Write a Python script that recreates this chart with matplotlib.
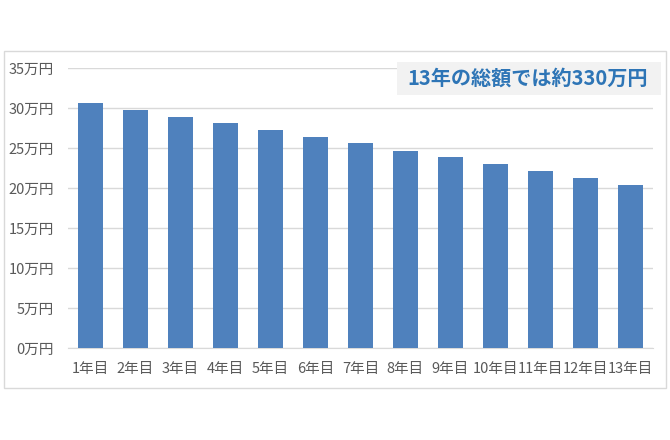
import matplotlib
matplotlib.use("Agg")
import matplotlib.pyplot as plt
from matplotlib.patches import Rectangle

plt.rcParams['font.family'] = ['Noto Sans CJK JP', 'DejaVu Sans']

# data (万円)
years = [f"{i}年目" for i in range(1, 14)]
amounts = [30.6, 29.75, 28.95, 28.1, 27.25, 26.45, 25.6,
           24.7, 23.85, 23.05, 22.15, 21.3, 20.4]
yticks = [0, 5, 10, 15, 20, 25, 30, 35]
ytick_labels = [f"{v}万円" for v in yticks]
note = "13年の総額では約330万円"

bar_color = "#4f81bd"
grid_color = "#d9d9d9"
text_gray = "#595959"

fig = plt.figure(figsize=(6.7, 4.4), dpi=100)

# outer chart frame (behind the axes)
fig.patches.append(Rectangle((0.006, 0.118), 0.988, 0.766, transform=fig.transFigure,
                             facecolor="none", edgecolor="#d9d9d9", linewidth=1, zorder=-1))

ax = fig.add_axes([0.1015, 0.209, 0.873, 0.636])
ax.set_facecolor("none")

x = range(len(years))
ax.bar(x, amounts, width=0.55, color=bar_color, zorder=3)

ax.set_ylim(0, 35)
ax.set_xlim(-0.5, len(years) - 0.5)
ax.set_yticks(yticks)
ax.set_yticklabels(ytick_labels)
ax.set_xticks(list(x))
ax.set_xticklabels(years)
ax.yaxis.grid(True, color=grid_color, linewidth=1, zorder=0)
ax.set_axisbelow(True)

for side in ["top", "right", "left"]:
    ax.spines[side].set_visible(False)
ax.spines["bottom"].set_color(grid_color)
ax.tick_params(axis="both", length=0, labelsize=10.5, labelcolor=text_gray)
ax.tick_params(axis="y", pad=10)
ax.tick_params(axis="x", pad=10)

# annotation box
fig.patches.append(Rectangle((0.5925, 0.784), 0.394, 0.075, transform=fig.transFigure,
                             facecolor="#f2f2f2", edgecolor="none", zorder=5))
fig.text(0.788, 0.822, note, ha="center", va="center", fontsize=14.5,
         fontweight="bold", color="#2e75b6", zorder=6)

fig.savefig("out.png", dpi=100)
